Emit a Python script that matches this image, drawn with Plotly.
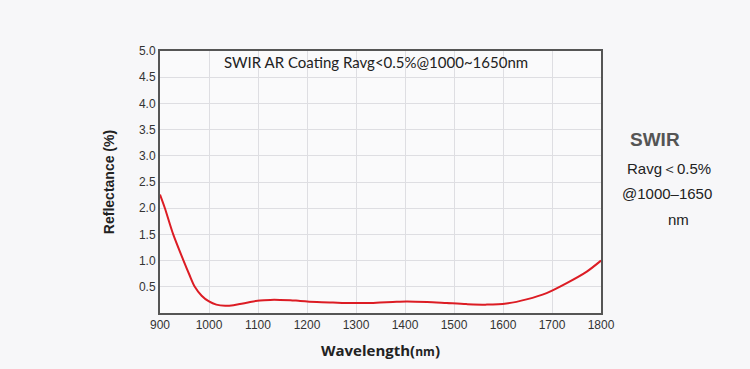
import plotly.graph_objects as go

wavelength = [900, 910, 927, 948, 960, 971, 985, 1000, 1015, 1033, 1050, 1063, 1084, 1104, 1125, 1145, 1166, 1186, 1220, 1253, 1290, 1322, 1349, 1375, 1403, 1445, 1485, 1525, 1567, 1607, 1648, 1689, 1730, 1771, 1800]
reflectance = [2.26, 2.00, 1.50, 1.00, 0.73, 0.50, 0.33, 0.22, 0.16, 0.14, 0.15, 0.17, 0.21, 0.24, 0.25, 0.25, 0.245, 0.23, 0.21, 0.20, 0.19, 0.19, 0.20, 0.21, 0.22, 0.21, 0.19, 0.17, 0.16, 0.18, 0.26, 0.38, 0.57, 0.79, 1.00]

x_ticks = [900, 1000, 1100, 1200, 1300, 1400, 1500, 1600, 1700, 1800]
y_ticks = [0.5, 1.0, 1.5, 2.0, 2.5, 3.0, 3.5, 4.0, 4.5, 5.0]
y_ticklabels = ["0.5", "1.0", "1.5", "2.0", "2.5", "3.0", "3.5", "4.0", "4.5", "5.0"]

chart_title = "SWIR AR Coating Ravg<0.5%@1000~1650nm"
side_title = "SWIR"
side_lines = ["Ravg＜0.5%", "@1000–1650", "nm"]

fig = go.Figure()
fig.add_trace(go.Scatter(
    x=wavelength, y=reflectance, mode="lines",
    line=dict(color="#dc1c24", width=2, shape="spline", smoothing=0.8),
    hoverinfo="skip", showlegend=False,
))

fig.update_layout(
    width=750, height=369,
    margin=dict(l=160, r=149, t=51, b=56),
    paper_bgcolor="#f7f7f9",
    plot_bgcolor="#fafafb",
    font=dict(family="Liberation Sans, Arial, sans-serif", color="#333333", size=12),
    xaxis=dict(
        range=[900, 1800], tickvals=x_ticks, ticks="", showgrid=True,
        gridcolor="#dedee2", gridwidth=1, showline=True, linecolor="#555555",
        linewidth=2, mirror=True, zeroline=False,
        tickfont=dict(size=12, color="#333333"),
        title=dict(text="<b>Wavelength(<span style='font-size:12px'>nm</span>)</b>",
                   font=dict(family="Open Sans, sans-serif", size=15, color="#222222"), standoff=14),
    ),
    yaxis=dict(
        range=[0, 5], tickvals=y_ticks, ticktext=y_ticklabels, ticks="", showgrid=True,
        gridcolor="#dedee2", gridwidth=1, showline=True, linecolor="#555555",
        linewidth=2, mirror=True, zeroline=False,
        tickfont=dict(size=12, color="#333333"),
        title=dict(text="<b>Reflectance (%)</b>",
                   font=dict(family="Liberation Sans, Arial, sans-serif", size=14, color="#222222"), standoff=21),
    ),
)

def px_to_paper_x(px):
    return (px - 160) / 441.0

def px_to_paper_y(py):
    return (313 - py) / 262.0

fig.add_annotation(
    x=px_to_paper_x(222), y=px_to_paper_y(62), xref="paper", yref="paper",
    xanchor="left", yanchor="middle", text=chart_title, showarrow=False,
    font=dict(family="Lato, sans-serif", size=15, color="#222222"),
)

fig.add_annotation(
    x=px_to_paper_x(628), y=px_to_paper_y(139), xref="paper", yref="paper",
    xanchor="left", yanchor="middle", showarrow=False,
    text="<b>" + side_title + "</b>",
    font=dict(family="Liberation Sans, Arial, sans-serif", size=19, color="#555555"),
)
for line, py, px in zip(side_lines, [168, 193, 219], [669, 667, 678]):
    fig.add_annotation(
        x=px_to_paper_x(px), y=px_to_paper_y(py), xref="paper", yref="paper",
        xanchor="center", yanchor="middle", showarrow=False,
        text=line, font=dict(family="Liberation Sans, Arial, sans-serif", size=15, color="#222222"),
    )

fig.write_html("out.html", config={"displayModeBar": False},
               post_script="document.body.style.margin='0';")
